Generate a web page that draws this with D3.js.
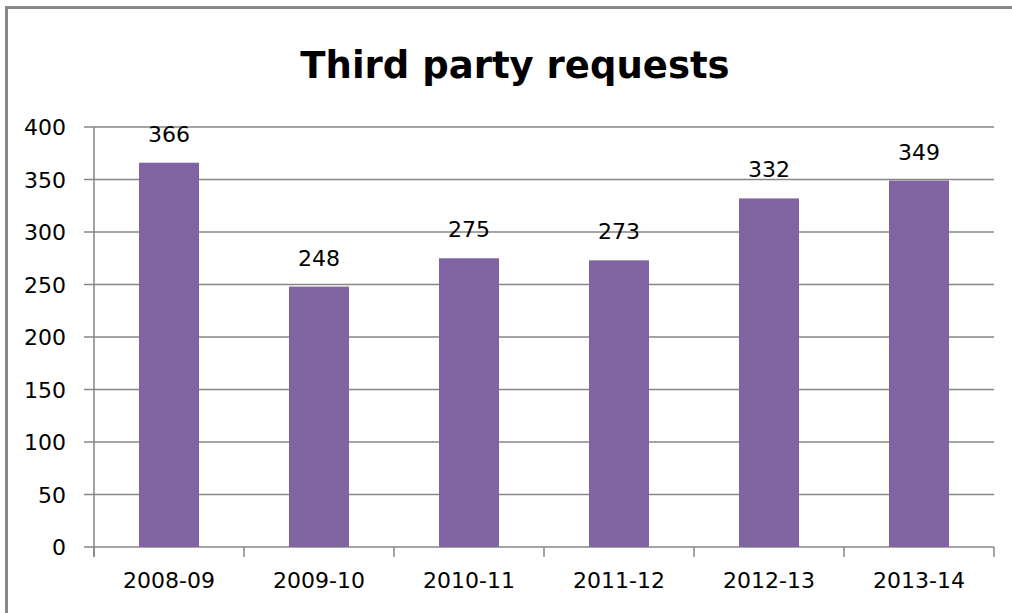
<!DOCTYPE html>
<html>
<head>
<meta charset="utf-8">
<script src="https://cdn.jsdelivr.net/npm/d3@7"></script>
<style>
  body { margin: 0; background: #fff; }
  svg { display: block; }
</style>
</head>
<body>
<div id="chart"></div>
<script>
// data
const years = ["2008-09", "2009-10", "2010-11", "2011-12", "2012-13", "2013-14"];
const requests = [366, 248, 275, 273, 332, 349];
const yTicks = [0, 50, 100, 150, 200, 250, 300, 350, 400];

const W = 1012, H = 613;
const plot = { left: 94, right: 994, top: 127, bottom: 547 };
const font = "Tahoma, 'DejaVu Sans', sans-serif";

const svg = d3.select("#chart").append("svg")
    .attr("width", W)
    .attr("height", H);

// outer chart frame (left + top edges visible)
svg.append("path")
    .attr("d", `M6.5,${H} V7.5 H${W}`)
    .attr("fill", "none")
    .attr("stroke", "#878787")
    .attr("stroke-width", 3);

// title
svg.append("text")
    .attr("x", 515)
    .attr("y", 78)
    .attr("text-anchor", "middle")
    .attr("font-family", font)
    .attr("font-weight", "bold")
    .attr("font-size", 37)
    .attr("fill", "#000")
    .text("Third party requests");

const x = d3.scaleBand()
    .domain(years)
    .range([plot.left, plot.right])
    .paddingInner(0.6)
    .paddingOuter(0.3);

const y = d3.scaleLinear()
    .domain([0, 400])
    .range([plot.bottom, plot.top]);

// gridlines
svg.append("g")
    .selectAll("line")
    .data(yTicks)
    .join("line")
    .attr("x1", plot.left - 10)
    .attr("x2", plot.right)
    .attr("y1", d => y(d))
    .attr("y2", d => y(d))
    .attr("stroke", "#868686")
    .attr("stroke-width", 1.5);

// y axis line
svg.append("line")
    .attr("x1", plot.left).attr("x2", plot.left)
    .attr("y1", plot.top).attr("y2", plot.bottom + 10)
    .attr("stroke", "#868686")
    .attr("stroke-width", 1.5);

// x category boundary ticks
const step = x.step();
svg.append("g")
    .selectAll("line")
    .data(d3.range(years.length + 1))
    .join("line")
    .attr("x1", i => plot.left + i * step)
    .attr("x2", i => plot.left + i * step)
    .attr("y1", plot.bottom)
    .attr("y2", plot.bottom + 10)
    .attr("stroke", "#868686")
    .attr("stroke-width", 1.5);

// y tick labels
svg.append("g")
    .selectAll("text")
    .data(yTicks)
    .join("text")
    .attr("x", 66)
    .attr("y", d => y(d) + 8)
    .attr("text-anchor", "end")
    .attr("font-family", font)
    .attr("font-size", 22)
    .attr("fill", "#000")
    .text(d => d);

// x labels
svg.append("g")
    .selectAll("text")
    .data(years)
    .join("text")
    .attr("x", d => x(d) + x.bandwidth() / 2)
    .attr("y", 588)
    .attr("text-anchor", "middle")
    .attr("font-family", font)
    .attr("font-size", 22)
    .attr("fill", "#000")
    .text(d => d);

// bars
svg.append("g")
    .selectAll("rect")
    .data(years)
    .join("rect")
    .attr("x", d => x(d))
    .attr("y", (d, i) => y(requests[i]))
    .attr("width", x.bandwidth())
    .attr("height", (d, i) => plot.bottom - y(requests[i]))
    .attr("fill", "#8064A2");

// value labels
svg.append("g")
    .selectAll("text")
    .data(years)
    .join("text")
    .attr("x", d => x(d) + x.bandwidth() / 2)
    .attr("y", (d, i) => y(requests[i]) - 21)
    .attr("text-anchor", "middle")
    .attr("font-family", font)
    .attr("font-size", 22)
    .attr("fill", "#000")
    .text((d, i) => requests[i]);
</script>
</body>
</html>
